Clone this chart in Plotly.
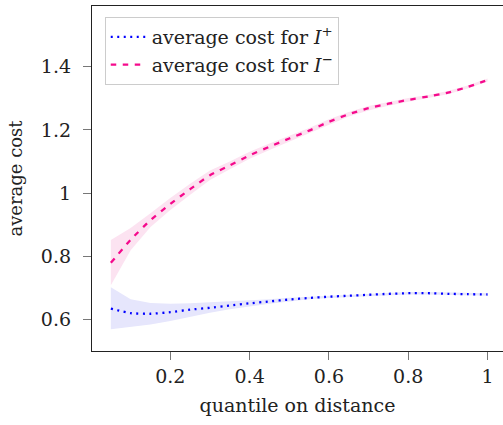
import plotly.graph_objects as go

quantiles = [0.05, 0.10, 0.15, 0.20, 0.25, 0.30, 0.35, 0.40, 0.45, 0.50,
             0.55, 0.60, 0.65, 0.70, 0.75, 0.80, 0.85, 0.90, 0.95, 1.00]

cost_plus = [0.635, 0.621, 0.619, 0.624, 0.632, 0.638, 0.645, 0.652, 0.658, 0.664,
             0.669, 0.673, 0.676, 0.679, 0.682, 0.684, 0.684, 0.682, 0.681, 0.680]
cost_plus_low = [0.570, 0.577, 0.585, 0.596, 0.610, 0.622, 0.633, 0.643, 0.651, 0.658,
                 0.665, 0.669, 0.672, 0.675, 0.678, 0.680, 0.680, 0.678, 0.677, 0.676]
cost_plus_high = [0.703, 0.665, 0.653, 0.651, 0.652, 0.655, 0.657, 0.661, 0.665, 0.670,
                  0.673, 0.677, 0.680, 0.683, 0.686, 0.688, 0.688, 0.686, 0.685, 0.684]

cost_minus = [0.780, 0.853, 0.915, 0.966, 1.013, 1.057, 1.088, 1.120, 1.147, 1.173,
              1.198, 1.226, 1.250, 1.269, 1.283, 1.295, 1.306, 1.318, 1.336, 1.358]
cost_minus_low = [0.709, 0.820, 0.893, 0.947, 0.995, 1.042, 1.076, 1.109, 1.137, 1.164,
                  1.190, 1.218, 1.243, 1.262, 1.277, 1.289, 1.301, 1.313, 1.331, 1.353]
cost_minus_high = [0.852, 0.890, 0.937, 0.985, 1.030, 1.072, 1.100, 1.131, 1.157, 1.182,
                   1.206, 1.234, 1.257, 1.276, 1.289, 1.301, 1.311, 1.323, 1.341, 1.363]

x_ticks = [0.2, 0.4, 0.6, 0.8, 1.0]
x_ticktext = ["0.2", "0.4", "0.6", "0.8", "1"]
y_ticks = [0.6, 0.8, 1.0, 1.2, 1.4]
y_ticktext = ["0.6", "0.8", "1", "1.2", "1.4"]

BLUE = "#0000ff"
PINK = "#f50a8c"
BLUE_FILL = "#e6e6fc"
PINK_FILL = "#fce3f1"
FONT = "DejaVu Serif"
TXT = "#222222"

fig = go.Figure()

# bands
fig.add_trace(go.Scatter(x=quantiles, y=cost_plus_low, mode="lines", line=dict(width=0),
                         showlegend=False, hoverinfo="skip"))
fig.add_trace(go.Scatter(x=quantiles, y=cost_plus_high, mode="lines", line=dict(width=0),
                         fill="tonexty", fillcolor=BLUE_FILL, showlegend=False, hoverinfo="skip"))
fig.add_trace(go.Scatter(x=quantiles, y=cost_minus_low, mode="lines", line=dict(width=0),
                         showlegend=False, hoverinfo="skip"))
fig.add_trace(go.Scatter(x=quantiles, y=cost_minus_high, mode="lines", line=dict(width=0),
                         fill="tonexty", fillcolor=PINK_FILL, showlegend=False, hoverinfo="skip"))

# lines
fig.add_trace(go.Scatter(x=quantiles, y=cost_plus, mode="lines",
                         line=dict(color=BLUE, width=2.3, dash="2px,4.5px", shape="spline", smoothing=0.5),
                         name="average cost for <i>I</i><sup>+</sup>"))
fig.add_trace(go.Scatter(x=quantiles, y=cost_minus, mode="lines",
                         line=dict(color=PINK, width=2.3, dash="5.5px,6.5px", shape="spline", smoothing=0.5),
                         name="average cost for <i>I</i><sup>\u2212</sup>"))

fig.update_layout(
    width=503, height=425,
    margin=dict(l=92, r=0, t=6, b=74),
    paper_bgcolor="white", plot_bgcolor="white",
    font=dict(family=FONT, size=18, color=TXT),
    legend=dict(x=0.031, y=0.968, xanchor="left", yanchor="top",
                bgcolor="white", bordercolor="#cccccc", borderwidth=1,
                font=dict(family=FONT, size=19, color=TXT),
                itemwidth=36, traceorder="normal", tracegroupgap=0),
    xaxis=dict(range=[0.0025, 1.039], tickvals=x_ticks, ticktext=x_ticktext,
               showgrid=False, zeroline=False, showline=True, linecolor=TXT, linewidth=1.3,
               mirror=True, ticks="outside", ticklen=8, tickcolor="#777777", tickwidth=1,
               tickfont=dict(family=FONT, size=19, color=TXT),
               title=dict(text="quantile on distance", font=dict(family=FONT, size=19, color=TXT), standoff=12)),
    yaxis=dict(range=[0.5013, 1.592], tickvals=y_ticks, ticktext=y_ticktext,
               showgrid=False, zeroline=False, showline=True, linecolor=TXT, linewidth=1.3,
               ticks="outside", ticklen=8, tickcolor="#777777", tickwidth=1,
               ticklabelstandoff=8,
               tickfont=dict(family=FONT, size=19, color=TXT),
               title=dict(text="average cost", font=dict(family=FONT, size=18, color=TXT), standoff=13)),
)

fig.write_html("out.html", config={"displayModeBar": False},
               post_script="document.body.style.margin='0';")
